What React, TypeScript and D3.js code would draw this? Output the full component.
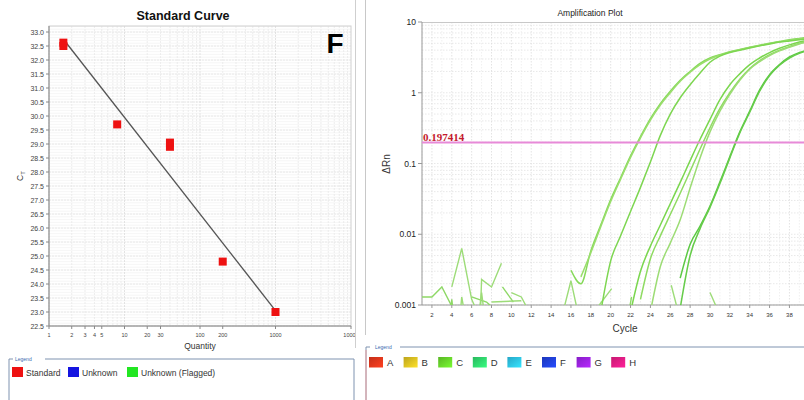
import React from "react";
import * as d3 from "d3";

// ---------- Standard curve data ----------
const stdQuantity = [1.55, 1.55, 8, 40, 40, 200, 1000];
const stdCt = [32.5, 32.62, 29.7, 28.9, 29.05, 24.8, 23.0];
const fitSlope = -3.45;
const fitIntercept = 33.4;
const fitQtyRange = [1.6, 1000];
const qtyTicks = [1, 2, 3, 4, 5, 10, 20, 30, 100, 200, 1000, 10000];
const ctTicks = d3.range(22.5, 33.01, 0.5);

// ---------- Amplification plot data ----------
const cycleTicks = d3.range(2, 40, 2);
const rnTicks = [0.001, 0.01, 0.1, 1, 10];
const rnTickLabels = ["0.001", "0.01", "0.1", "1", "10"];
const threshold = 0.197414;

const curve1aStart = 16;
const curve1a = [0.0031, 0.002, 0.0058, 0.0135, 0.031, 0.063, 0.128, 0.24, 0.43, 0.7, 1.05, 1.5, 2.0, 2.6, 3.1, 3.45, 3.8, 4.1, 4.4, 4.7, 5.0, 5.3, 5.6, 5.85, 6.1];
const curve1bStart = 17;
const curve1b = [0.0025, 0.0055, 0.0128, 0.029, 0.06, 0.122, 0.23, 0.41, 0.67, 1.0, 1.45, 1.95, 2.5, 3.0, 3.4, 3.75, 4.05, 4.35, 4.65, 4.95, 5.25, 5.5, 5.75, 5.95];
const curve2Start = 19;
const curve2 = [0.0008, 0.0042, 0.0095, 0.021, 0.046, 0.105, 0.25, 0.5, 0.85, 1.3, 1.9, 2.7, 3.3, 3.7, 4.0, 4.3, 4.6, 4.9, 5.2, 5.4, 5.6, 5.8];
const curve3aStart = 22;
const curve3a = [0.0008, 0.003, 0.0068, 0.0135, 0.027, 0.054, 0.11, 0.22, 0.42, 0.8, 1.3, 1.85, 2.5, 3.1, 3.7, 4.25, 4.75, 5.2, 5.6];
const curve3bStart = 23;
const curve3b = [0.0012, 0.0045, 0.0095, 0.019, 0.038, 0.078, 0.16, 0.32, 0.6, 1.0, 1.55, 2.2, 2.85, 3.45, 4.0, 4.5, 5.0, 5.4];
const curve3cStart = 24;
const curve3c = [0.0008, 0.0035, 0.0075, 0.016, 0.045, 0.12, 0.28, 0.55, 0.95, 1.5, 2.15, 2.75, 3.35, 3.9, 4.4, 4.9, 5.3];
const curve5aStart = 27;
const curve5a = [0.0024, 0.0072, 0.013, 0.025, 0.055, 0.125, 0.28, 0.55, 1.1, 1.8, 2.5, 3.2, 3.7, 4.1];
const curve5bStart = 27;
const curve5b = [0.0009, 0.005, 0.012, 0.024, 0.052, 0.12, 0.27, 0.53, 1.05, 1.75, 2.45, 3.1, 3.6, 4.0];

const noiseSegments: [number, number][][] = [
  [[1, 0.0013], [2, 0.0013], [3, 0.0018], [4.1, 0.0009]],
  [[4, 0.0018], [5, 0.0063], [6, 0.0012], [6.4, 0.0009]],
  [[6.9, 0.0009], [7, 0.0023], [8, 0.0018], [9, 0.0039]],
  [[9.1, 0.0018], [10.2, 0.0011]],
  [[10, 0.0015], [11, 0.0013], [11.6, 0.0009]],
  [[8, 0.0011], [11, 0.00115]],
  [[6, 0.0013], [7.5, 0.0011], [8.2, 0.0009]],
  [[6.8, 0.0009], [7, 0.0015], [7.2, 0.0009]],
  [[4.9, 0.0009], [5, 0.0013], [5.2, 0.0009]],
  [[3.9, 0.0009], [4, 0.0012], [4.1, 0.0009]],
  [[15.3, 0.0009], [16, 0.0022], [16.6, 0.0009]],
  [[18.6, 0.0009], [20.1, 0.0017]],
  [[21.9, 0.0009], [22.1, 0.0013]],
  [[26.1, 0.0019], [26.7, 0.0009]],
  [[30, 0.0015], [30.7, 0.0009]],
];

const legendLeftLabels = ["Standard", "Unknown", "Unknown (Flagged)"];
const legendLeftColors = ["#ee1111", "#1515e0", "#22e622"];
const wellLabels = ["A", "B", "C", "D", "E", "F", "G", "H"];
const wellColors = ["#e2361c", "#d9bd22", "#66d22a", "#2fd46c", "#2cc0e6", "#2040d6", "#9a22e6", "#e61c82"];

const FONT = "'Liberation Sans', Arial, sans-serif";

function toPts(start: number, vals: number[]): [number, number][] {
  return vals.map((v, i) => [start + i, v]);
}

export default function App() {
  // Standard curve scales
  const sx = d3.scaleLog().domain([1, 10000]).range([49, 351]);
  const sy = d3.scaleLinear().domain([22.5, 33]).range([326, 32]);
  const sTop = 26;

  const sxMinor: number[] = [];
  [1, 10, 100, 1000].forEach((d) => {
    for (let k = 1; k < 10; k++) sxMinor.push(d * k);
  });
  const syMinor = d3.range(22.5, 33.2, 0.1);

  // Amplification scales
  const ax = d3.scaleLinear().domain([1, 40]).range([422, 809.3]);
  const ay = d3.scaleLog().domain([0.001, 10]).range([305, 22]);
  const ayMinor: number[] = [];
  [0.001, 0.01, 0.1, 1].forEach((d) => {
    for (let k = 1; k < 10; k++) ayMinor.push(d * k);
  });

  const ampLine = d3
    .line<[number, number]>()
    .x((d) => ax(d[0]))
    .y((d) => ay(Math.max(d[1], 0.0002)))
    .curve(d3.curveMonotoneX);
  const noiseLine = d3
    .line<[number, number]>()
    .x((d) => ax(d[0]))
    .y((d) => ay(Math.max(d[1], 0.0002)));

  const curves = [
    { pts: toPts(curve1aStart, curve1a), c: "#86d95a" },
    { pts: toPts(curve1bStart, curve1b), c: "#9ade6c" },
    { pts: toPts(curve2Start, curve2), c: "#7dd651" },
    { pts: toPts(curve3aStart, curve3a), c: "#7ad64e" },
    { pts: toPts(curve3bStart, curve3b), c: "#8fdb62" },
    { pts: toPts(curve3cStart, curve3c), c: "#9cdc74" },
    { pts: toPts(curve5aStart, curve5a), c: "#5cc944" },
    { pts: toPts(curve5bStart, curve5b), c: "#66cc4a" },
  ];

  const fitLine = d3
    .line<number>()
    .x((q) => sx(q))
    .y((q) => sy(fitIntercept + fitSlope * Math.log10(q)));

  return (
    <svg
      width={804}
      height={400}
      style={{ position: "absolute", left: 0, top: 0, background: "#fff", fontFamily: FONT }}
    >
      <defs>
        <clipPath id="leftPanel">
          <rect x={0} y={0} width={355} height={400} />
        </clipPath>
        <clipPath id="ampClip">
          <rect x={422} y={22} width={400} height={283} />
        </clipPath>
        {wellColors.map((c, i) => (
          <linearGradient key={i} id={`wg${i}`} x1="0" y1="0" x2="1" y2="1">
            <stop offset="0" stopColor={d3.color(c)!.darker(0.4).toString()} />
            <stop offset="1" stopColor={d3.color(c)!.brighter(0.5).toString()} />
          </linearGradient>
        ))}
      </defs>

      {/* ================= LEFT PANEL ================= */}
      <g clipPath="url(#leftPanel)">
        <text x={183} y={20} textAnchor="middle" fontSize={12.5} fontWeight="bold" fill="#111">
          Standard Curve
        </text>
        {/* grid */}
        {syMinor.map((v, i) => (
          <line key={"sym" + i} x1={49} x2={351} y1={sy(v)} y2={sy(v)} stroke="#f2f2f2" strokeWidth={0.7} />
        ))}
        {ctTicks.map((v, i) => (
          <line key={"syg" + i} x1={49} x2={351} y1={sy(v)} y2={sy(v)} stroke="#e4e4e4" strokeWidth={0.8} strokeDasharray="2,1" />
        ))}
        {sxMinor.map((q, i) => (
          <line key={"sxg" + i} x1={sx(q)} x2={sx(q)} y1={sTop} y2={326} stroke={q.toString()[0] === "1" ? "#dcdcdc" : "#e8e8e8"} strokeWidth={0.8} strokeDasharray="2,1" />
        ))}
        <rect x={49} y={sTop} width={302} height={326 - sTop} fill="none" stroke="#d0d0d0" strokeWidth={1} />
        <line x1={49} x2={49} y1={sTop} y2={326} stroke="#888" />
        <line x1={49} x2={351} y1={326} y2={326} stroke="#888" />
        {/* y ticks */}
        {ctTicks.map((v, i) => (
          <g key={"syt" + i}>
            <line x1={46} x2={49} y1={sy(v)} y2={sy(v)} stroke="#888" />
            <text x={44} y={sy(v) + 2.5} textAnchor="end" fontSize={7} fill="#444">
              {v.toFixed(1)}
            </text>
          </g>
        ))}
        {/* x ticks */}
        {qtyTicks.map((q, i) => (
          <g key={"sxt" + i}>
            <line x1={sx(q)} x2={sx(q)} y1={326} y2={329} stroke="#888" />
            <text x={sx(q)} y={337} textAnchor="middle" fontSize={5.5} fill="#444">
              {q}
            </text>
          </g>
        ))}
        <text x={200} y={349} textAnchor="middle" fontSize={8.5} fill="#333">
          Quantity
        </text>
        <text transform={`translate(23,176) rotate(-90)`} textAnchor="middle" fontSize={8.5} fill="#333">
          C<tspan fontSize={6} dy={1.5}>T</tspan>
        </text>
        {/* fit line */}
        <path d={fitLine([fitQtyRange[0], fitQtyRange[1]]) || ""} stroke="#555" strokeWidth={1.3} fill="none" />
        {/* points */}
        {stdQuantity.map((q, i) => (
          <rect key={"pt" + i} x={sx(q) - 4} y={sy(stdCt[i]) - 4} width={8} height={8} fill="#ee1111" />
        ))}
        <text x={335} y={53} textAnchor="middle" fontSize={28} fontWeight="bold" fill="#000">
          F
        </text>

        {/* legend left */}
        <path d="M9,400 L9,359 L13,359 M45,359 L354,359 L354,400" fill="none" stroke="#7f93b0" strokeWidth={1} />
        <text x={15} y={361} fontSize={5} fill="#3a6ab0">
          Legend
        </text>
        {legendLeftLabels.map((lab, i) => {
          const xs = [12, 68, 127][i];
          return (
            <g key={"ll" + i}>
              <rect x={xs} y={367} width={11} height={10} fill={legendLeftColors[i]} />
              <text x={xs + 14} y={375.5} fontSize={8.5} fill="#333">
                {lab}
              </text>
            </g>
          );
        })}
      </g>
      <line x1={355.5} x2={355.5} y1={0} y2={348} stroke="#cfcfcf" strokeWidth={1} />

      {/* ================= RIGHT PANEL ================= */}
      <line x1={365.5} x2={365.5} y1={0} y2={335} stroke="#c8c8c8" strokeWidth={1} />
      <text x={590} y={16} textAnchor="middle" fontSize={8.5} fill="#222">
        Amplification Plot
      </text>
      {/* grid */}
      {ayMinor.map((v, i) => (
        <line key={"aym" + i} x1={422} x2={804} y1={ay(v)} y2={ay(v)} stroke="#e2e2e2" strokeWidth={0.8} strokeDasharray="1.5,1.5" />
      ))}
      {d3.range(1, 41, 1).map((c) => (
        <line key={"axg" + c} x1={ax(c)} x2={ax(c)} y1={22} y2={305} stroke={c % 2 === 0 ? "#dcdcdc" : "#ececec"} strokeWidth={0.8} strokeDasharray="1.5,1.5" />
      ))}
      <line x1={422} x2={804} y1={22.5} y2={22.5} stroke="#c8c8c8" strokeWidth={1} />
      <line x1={422} x2={422} y1={22} y2={305} stroke="#999" />
      <line x1={422} x2={804} y1={305} y2={305} stroke="#999" />
      {rnTicks.map((v, i) => (
        <g key={"ayt" + i}>
          <line x1={418} x2={422} y1={ay(v)} y2={ay(v)} stroke="#999" />
          <text x={416} y={ay(v) + 3} textAnchor="end" fontSize={8.5} fill="#222">
            {rnTickLabels[i]}
          </text>
        </g>
      ))}
      {cycleTicks.map((c) => (
        <g key={"axt" + c}>
          <line x1={ax(c)} x2={ax(c)} y1={305} y2={308} stroke="#999" />
          <text x={ax(c)} y={317} textAnchor="middle" fontSize={6} fill="#333">
            {c}
          </text>
        </g>
      ))}
      <text x={625} y={332} textAnchor="middle" fontSize={10} fill="#333">
        Cycle
      </text>
      <text transform={`translate(390,164) rotate(-90)`} textAnchor="middle" fontSize={10} fill="#333">
        ΔRn
      </text>

      <g clipPath="url(#ampClip)">
        {noiseSegments.map((seg, i) => (
          <path key={"n" + i} d={noiseLine(seg) || ""} fill="none" stroke={i % 3 === 0 ? "#8ed866" : "#9ddc78"} strokeWidth={1.4} />
        ))}
        {curves.map((cv, i) => (
          <path key={"c" + i} d={ampLine(cv.pts) || ""} fill="none" stroke={cv.c} strokeWidth={1.5} />
        ))}
        <line x1={422} x2={809} y1={ay(threshold)} y2={ay(threshold)} stroke="#e78ad8" strokeWidth={2} />
      </g>
      <text x={423} y={141} fontSize={11} fontWeight="bold" fill="#c41a2c" fontFamily="'Liberation Serif', 'Times New Roman', serif">
        {threshold.toString()}
      </text>

      {/* legend right */}
      <path d="M366,400 L366,347 L370,347 M400,347 L804,347" fill="none" stroke="#7f93b0" strokeWidth={1} />
      <line x1={366} x2={366} y1={350} y2={400} stroke="#e8a0a0" strokeWidth={1} />
      <text x={375} y={349} fontSize={5} fill="#3a6ab0">
        Legend
      </text>
      {wellLabels.map((lab, i) => {
        const xs = 369 + i * 34.6;
        return (
          <g key={"wl" + i}>
            <rect x={xs} y={357} width={14} height={10.5} fill={`url(#wg${i})`} />
            <text x={xs + 18} y={366} fontSize={9.5} fill="#333">
              {lab}
            </text>
          </g>
        );
      })}
    </svg>
  );
}
